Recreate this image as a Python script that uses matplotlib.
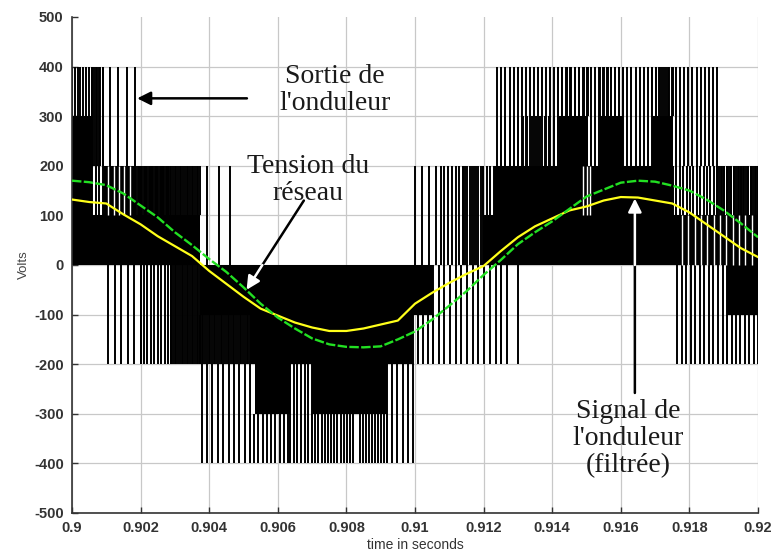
import numpy as np
import matplotlib
matplotlib.use("Agg")
import matplotlib.pyplot as plt

plt.rcParams["axes.unicode_minus"] = False

# ---- sampled waveforms (volts), one sample every 0.5 ms -------------------
t_samples = np.linspace(0.900, 0.920, 41)
grid_voltage = [170, 167, 161, 144, 120, 96, 66, 40, 12, -14,
                -45, -78, -106, -128, -148, -160, -165, -166, -164, -150,
                -134, -110, -82, -53, -20, 10, 42, 66, 88, 113,
                138, 152, 166, 170, 168, 160, 150, 132, 110, 84,
                56]
filtered_output = [132, 127, 124, 102, 82, 58, 38, 18, -12, -38,
                   -64, -88, -102, -116, -126, -133, -133, -128, -120, -112,
                   -78, -56, -36, -18, -2, 28, 56, 78, 94, 110,
                   118, 130, 137, 136, 130, 124, 106, 82, 58, 34,
                   16]

# ---- multilevel inverter output: densely switched bands ---------------------
block_t0 = [0.90000, 0.90058, 0.90090, 0.90373, 0.90519, 0.90534, 0.90700,
            0.91198, 0.91230, 0.91417, 0.91539, 0.91691, 0.91910]
block_t1 = [0.90058, 0.90373, 0.90184, 0.91052, 0.90994, 0.90636, 0.90918,
            0.92000, 0.91752, 0.91504, 0.91606, 0.91752, 0.92000]
block_lo = [0, 0, 100, -100, -200, -300, -300, 0, 100, 200, 200, 200, -100]
block_hi = [300, 100, 200, 0, -100, -200, -200, 100, 200, 300, 300, 300, 0]

# isolated switching pulses: (start, end, low level, high level, count)
pulse_t0 = [0.90000, 0.90058, 0.90111, 0.90184, 0.90280, 0.90395,
            0.90105, 0.90200, 0.90290, 0.90373, 0.90378,
            0.90519, 0.90636, 0.90700, 0.90840, 0.90918,
            0.90994, 0.91052, 0.91000, 0.91075, 0.91140,
            0.91198, 0.91240, 0.91250, 0.91417, 0.91539, 0.91691,
            0.91752, 0.91880, 0.91250, 0.91764, 0.91910]
pulse_t1 = [0.90090, 0.90090, 0.90184, 0.90280, 0.90373, 0.90461,
            0.90200, 0.90290, 0.90373, 0.90519, 0.90519,
            0.90630, 0.90700, 0.90820, 0.90918, 0.90994,
            0.91052, 0.91268, 0.91060, 0.91140, 0.91198,
            0.91230, 0.91880, 0.91417, 0.91504, 0.91606, 0.91752,
            0.92000, 0.92000, 0.91300, 0.91910, 0.92000]
pulse_lo = [200, 100, 200, 100, 100, 0,
            -200, -200, -200, -200, -400,
            -400, -400, -400, -400, -400,
            -200, -200, 0, 0, 0,
            100, 200, 200, 300, 300, 300,
            100, 100, -200, -200, -200]
pulse_hi = [400, 400, 400, 200, 200, 200,
            0, 0, 0, -100, -200,
            -300, -200, -300, -300, -200,
            -100, 0, 200, 200, 200,
            200, 400, 300, 400, 400, 400,
            200, 200, 0, 0, -100]
pulse_n = [12, 4, 4, 28, 20, 3,
           6, 10, 18, 30, 10,
           10, 7, 14, 10, 6,
           5, 14, 4, 7, 10,
           4, 55, 14, 8, 7, 7,
           26, 18, 2, 12, 8]

# short returns to the lower level inside dense bands
gap_t0 = [0.90090, 0.91480, 0.91760]
gap_t1 = [0.90184, 0.91520, 0.92000]
gap_lo = [100, 100, 0]
gap_hi = [200, 200, 100]
gap_n = [5, 3, 12]

x_ticks = [0.900, 0.902, 0.904, 0.906, 0.908, 0.910, 0.912, 0.914, 0.916, 0.918, 0.920]
x_tick_labels = ["0.9", "0.902", "0.904", "0.906", "0.908", "0.91",
                 "0.912", "0.914", "0.916", "0.918", "0.92"]
y_ticks = list(range(-500, 501, 100))

fig = plt.figure(figsize=(7.74, 5.53), dpi=100)
ax = fig.add_axes([72 / 774, 1 - 513 / 553, 686 / 774, 496 / 553])

ax.set_xlim(0.900, 0.920)
ax.set_ylim(-500, 500)

# inverter output
for t0, t1, lo, hi in zip(block_t0, block_t1, block_lo, block_hi):
    ax.fill_between([t0, t1], lo, hi, color="black", lw=0, zorder=2)
for t0, t1, lo, hi, n in zip(pulse_t0, pulse_t1, pulse_lo, pulse_hi, pulse_n):
    ax.vlines(np.linspace(t0, t1, n), lo, hi, colors="black", lw=1.4, zorder=2)
for t0, t1, lo, hi, n in zip(gap_t0, gap_t1, gap_lo, gap_hi, gap_n):
    ax.vlines(np.linspace(t0, t1, n + 2)[1:-1], lo, hi, colors="white", lw=1.0, zorder=2.5)

# filtered inverter signal and grid voltage
ax.plot(t_samples, filtered_output, color="#ffff1a", lw=1.6, zorder=4)
ax.plot(t_samples, grid_voltage, color="#22e022", lw=1.7,
        linestyle=(0, (4, 1.0)), zorder=5)

# axes styling
ax.set_xticks(x_ticks)
ax.set_xticklabels(x_tick_labels)
ax.set_yticks(y_ticks)
ax.grid(True, color="#c8c8c8", lw=0.9, zorder=0)
ax.set_axisbelow(True)
ax.get_ygridlines()[-1].set_visible(False)
for side in ("top", "right"):
    ax.spines[side].set_visible(False)
for side in ("left", "bottom"):
    ax.spines[side].set_color("#333333")
    ax.spines[side].set_linewidth(1.2)
ax.tick_params(direction="in", length=4, color="#333333", width=1,
               labelsize=10.5, labelcolor="#333333", pad=6)
for lab in ax.get_xticklabels() + ax.get_yticklabels():
    lab.set_fontweight("bold")
    lab.set_family("Liberation Sans")

ax.set_xlabel("time in seconds", fontsize=10, color="#333333",
              family="Liberation Sans", labelpad=2)
ax.set_ylabel("Volts", fontsize=9.5, color="#444444",
              family="Liberation Sans", labelpad=3)

# annotations
serif = dict(family="Liberation Serif", fontsize=20, color="#1a1a1a",
             ha="center", va="center", linespacing=1.1, zorder=6)
ax.text(0.90767, 352, "Sortie de\nl'onduleur", **serif)
ax.text(0.90688, 172, "Tension du\nréseau", **serif)
ax.text(0.91621, -350, "Signal de\nl'onduleur\n(filtrée)", **serif)

ax.annotate("", xy=(0.90190, 336), xytext=(0.90510, 336),
            arrowprops=dict(arrowstyle="-|>", color="black", lw=1.8,
                            mutation_scale=20, shrinkA=0, shrinkB=0), zorder=6)

# arrow towards the grid voltage: black over white, white over the dark band
ax.annotate("", xy=(0.90555, 0), xytext=(0.90676, 130),
            arrowprops=dict(arrowstyle="-", color="black", lw=1.8,
                            shrinkA=0, shrinkB=0), zorder=6)
ax.annotate("", xy=(0.90509, -50), xytext=(0.90555, 0),
            arrowprops=dict(arrowstyle="-|>", color="white", lw=1.8,
                            mutation_scale=20, shrinkA=0, shrinkB=0), zorder=6)

# arrow towards the filtered signal
ax.annotate("", xy=(0.91641, 0), xytext=(0.91641, -258),
            arrowprops=dict(arrowstyle="-", color="black", lw=1.8,
                            shrinkA=0, shrinkB=0), zorder=6)
ax.annotate("", xy=(0.91641, 134), xytext=(0.91641, 0),
            arrowprops=dict(arrowstyle="-|>", color="white", lw=1.8,
                            mutation_scale=20, shrinkA=0, shrinkB=0), zorder=6)

fig.savefig("out.png", dpi=100, facecolor="white")
